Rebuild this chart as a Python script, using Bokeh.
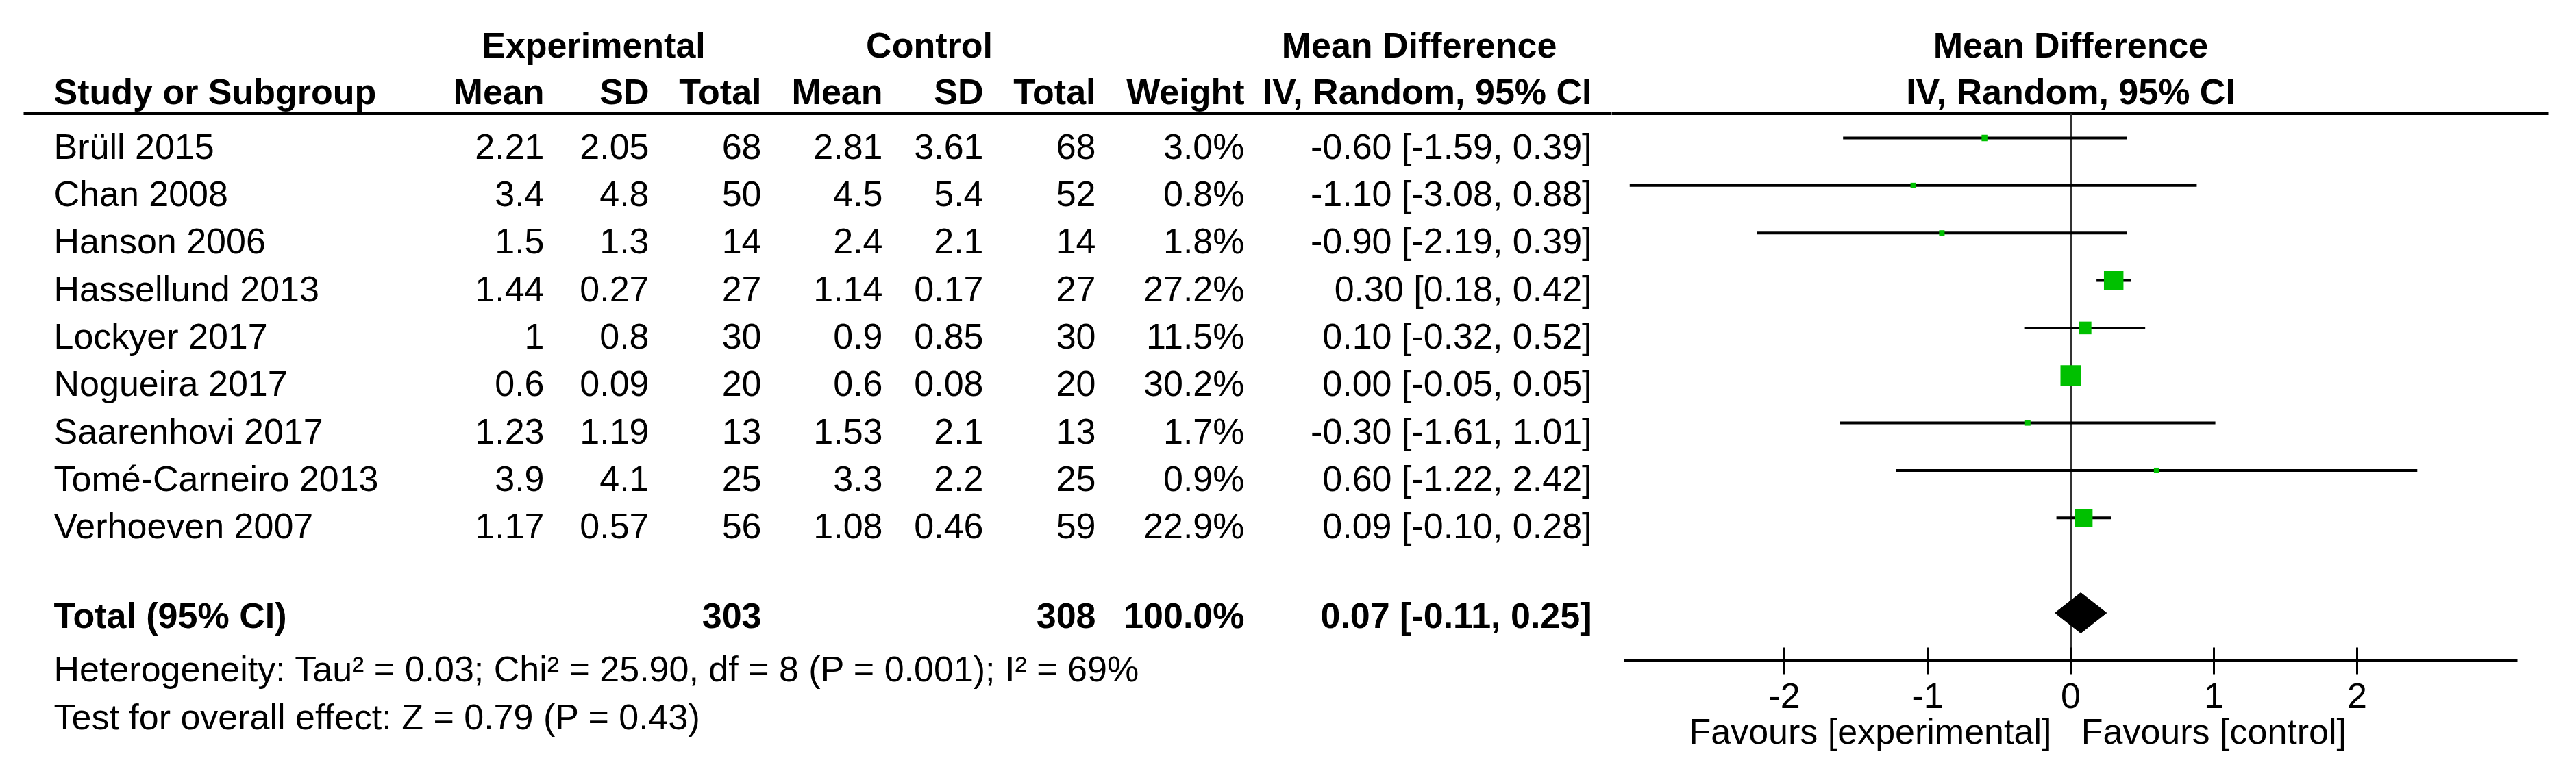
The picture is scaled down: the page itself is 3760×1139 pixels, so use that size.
from bokeh.plotting import figure
from bokeh.models import Range1d, LinearAxis, FixedTicker, Title
from bokeh.layouts import row
from bokeh.embed import file_html
from bokeh.resources import INLINE
from bokeh.core.properties import value

# ---------------- data ----------------
studies = ["Brüll 2015", "Chan 2008", "Hanson 2006", "Hassellund 2013", "Lockyer 2017",
           "Nogueira 2017", "Saarenhovi 2017", "Tomé-Carneiro 2013", "Verhoeven 2007"]
exp_mean = [2.21, 3.4, 1.5, 1.44, 1, 0.6, 1.23, 3.9, 1.17]
exp_sd = [2.05, 4.8, 1.3, 0.27, 0.8, 0.09, 1.19, 4.1, 0.57]
exp_total = [68, 50, 14, 27, 30, 20, 13, 25, 56]
ctl_mean = [2.81, 4.5, 2.4, 1.14, 0.9, 0.6, 1.53, 3.3, 1.08]
ctl_sd = [3.61, 5.4, 2.1, 0.17, 0.85, 0.08, 2.1, 2.2, 0.46]
ctl_total = [68, 52, 14, 27, 30, 20, 13, 25, 59]
weight = [3.0, 0.8, 1.8, 27.2, 11.5, 30.2, 1.7, 0.9, 22.9]
md = [-0.60, -1.10, -0.90, 0.30, 0.10, 0.00, -0.30, 0.60, 0.09]
ci_lo = [-1.59, -3.08, -2.19, 0.18, -0.32, -0.05, -1.61, -1.22, -0.10]
ci_hi = [0.39, 0.88, 0.39, 0.42, 0.52, 0.05, 1.01, 2.42, 0.28]

total_exp = 303
total_ctl = 308
total_weight = 100.0
total_md = 0.07
total_lo = -0.11
total_hi = 0.25

heterogeneity = "Heterogeneity: Tau² = 0.03; Chi² = 25.90, df = 8 (P = 0.001); I² = 69%"
overall = "Test for overall effect: Z = 0.79 (P = 0.43)"
ticks = [-2, -1, 0, 1, 2]
tick_labels = {-2: "-2", -1: "-1", 0: "0", 1: "1", 2: "2"}
favour_left = "Favours [experimental]"
favour_right = "Favours [control]"

# ---------------- layout constants ----------------
FONT = value("Liberation Sans")
FS = "52px"
ROW = 69.35          # px per table row
Y0 = 209             # px of first row centre (page coords)
W_LEFT = 2352
W_RIGHT = 1392
H = 1123
ZERO_PX = 3030
UNIT_PX = 209
AXIS_PX = 972
BASE_SHIFT = 16      # text drawn with "middle": baseline sits ~16px below y


def r(py):
    return (py - Y0) / ROW


def rb(baseline_px):
    """row coordinate for a text whose baseline should sit at baseline_px"""
    return r(baseline_px - BASE_SHIFT)


rows = list(range(len(studies)))
TOTAL_ROW = len(studies) + 1

# ---------------- left: table ----------------
left = figure(width=W_LEFT, height=H, x_range=Range1d(8, 8 + W_LEFT),
              y_range=Range1d(r(8 + H), r(8)), output_backend="svg",
              toolbar_location=None, x_axis_location=None, y_axis_location=None,
              min_border=0)
left.frame_align = False
left.outline_line_color = None
left.xgrid.visible = False
left.ygrid.visible = False

common = dict(text_font=FONT, text_font_size=FS, text_color="black",
              text_baseline="middle")

# header rows
left.text(x=[874, 1364, 2079], y=[rb(89)] * 3,
          text=["Experimental", "Control", "Mean Difference"],
          text_align="center", text_font_style="bold", **common)
left.text(x=[86], y=[rb(157)], text=["Study or Subgroup"], text_align="left",
          text_font_style="bold", **common)
left.text(x=[802, 955, 1119, 1296, 1443, 1607, 1824, 2331], y=[rb(157)] * 8,
          text=["Mean", "SD", "Total", "Mean", "SD", "Total", "Weight", "IV, Random, 95% CI"],
          text_align="right", text_font_style="bold", **common)
left.segment(x0=42, y0=r(173), x1=2420, y1=r(173), line_color="black", line_width=5)

# study rows
ty = [rb(237) + i for i in rows]
left.text(x=86, y=ty, text=studies, text_align="left", **common)
cols = [
    (802, [f"{v:g}" for v in exp_mean]),
    (955, [f"{v:g}" for v in exp_sd]),
    (1119, [str(v) for v in exp_total]),
    (1296, [f"{v:g}" for v in ctl_mean]),
    (1443, [f"{v:g}" for v in ctl_sd]),
    (1607, [str(v) for v in ctl_total]),
    (1824, [f"{v:.1f}%" for v in weight]),
    (2331, [f"{m:.2f} [{a:.2f}, {b:.2f}]" for m, a, b in zip(md, ci_lo, ci_hi)]),
]
for x, txt in cols:
    left.text(x=x, y=ty, text=txt, text_align="right", **common)

# total row
tty = rb(922)
left.text(x=[86], y=[tty], text=["Total (95% CI)"], text_align="left",
          text_font_style="bold", **common)
left.text(x=[1119, 1607, 1824, 2331], y=[tty] * 4,
          text=[str(total_exp), str(total_ctl), f"{total_weight:.1f}%",
                f"{total_md:.2f} [{total_lo:.2f}, {total_hi:.2f}]"],
          text_align="right", text_font_style="bold", **common)

left.text(x=[86, 86], y=[rb(1000), rb(1070)], text=[heterogeneity, overall],
          text_align="left", **common)

# ---------------- right: forest plot ----------------
xr = Range1d((8 + W_LEFT - ZERO_PX) / UNIT_PX, (8 + W_LEFT + W_RIGHT - ZERO_PX) / UNIT_PX)
right = figure(width=W_RIGHT, height=H, x_range=xr,
               y_range=Range1d(r(AXIS_PX), r(8)), output_backend="svg",
               toolbar_location=None, x_axis_location=None, y_axis_location=None,
               min_border=0, min_border_bottom=H - (AXIS_PX - 8))
right.frame_align = False
right.outline_line_color = None
right.xgrid.visible = False
right.ygrid.visible = False

right.text(x=[0, 0], y=[rb(89), rb(157)], text=["Mean Difference", "IV, Random, 95% CI"],
           text_align="center", text_font_style="bold", **common)
right.segment(x0=xr.start - 0.5, y0=r(173), x1=(3727 - ZERO_PX) / UNIT_PX, y1=r(173),
              line_color="black", line_width=5)

# zero line
right.segment(x0=0, y0=r(173), x1=0, y1=r(AXIS_PX), line_color="#333333", line_width=3)

# CI lines and squares
right.segment(x0=ci_lo, y0=rows, x1=ci_hi, y1=rows, line_color="black", line_width=4)
sizes = [max(8, 5.46 * w ** 0.5) for w in weight]
right.scatter(x=md, y=rows, marker="square", size=sizes, fill_color="#00c000",
              line_color=None)

# diamond
half = 0.425
right.patch(x=[total_lo, total_md, total_hi, total_md],
            y=[TOTAL_ROW, TOTAL_ROW - half, TOTAL_ROW, TOTAL_ROW + half],
            fill_color="black", line_color="black", line_width=1)

ax = LinearAxis(ticker=FixedTicker(ticks=ticks), bounds=(-3.12, 3.12))
ax.major_label_overrides = tick_labels
ax.axis_line_width = 5
ax.axis_line_color = "black"
ax.major_tick_line_width = 3
ax.major_tick_line_color = "black"
ax.major_tick_in = 19
ax.major_tick_out = 20
ax.minor_tick_line_color = None
ax.major_label_text_font = "Liberation Sans"
ax.major_label_text_font_size = FS
ax.major_label_text_color = "black"
ax.major_label_standoff = 13
right.add_layout(ax, "below")

fav = Title(text=favour_left + "\u00a0\u00a0\u00a0" + favour_right, align="left",
            offset=2473 - (8 + W_LEFT), text_font="Liberation Sans", text_font_size=FS,
            text_font_style="normal", text_color="black", standoff=0)
right.add_layout(fav, "below")

layout = row(left, right)
open("out.html", "w").write(file_html(layout, INLINE))
